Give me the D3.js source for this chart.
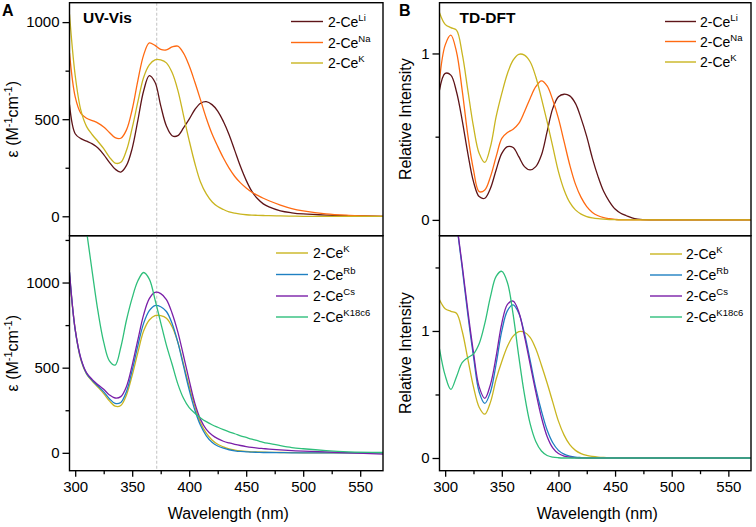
<!DOCTYPE html>
<html>
<head>
<meta charset="utf-8">
<script src="https://cdn.jsdelivr.net/npm/d3@7"></script>
<style>
  html, body { margin: 0; padding: 0; background: #fff; }
  svg { display: block; }
  text { font-family: "Liberation Sans", Arial, Helvetica, sans-serif; fill: #000; }
</style>
</head>
<body>
<svg id="chart" width="756" height="527"></svg>
<script>
// ---------------- DATA ----------------
const wavelengths = [295,300,305,310,315,320,325,330,335,340,
  345,350,355,360,365,370,375,380,385,390,
  395,400,405,410,415,420,425,430,435,440,
  445,450,455,460,465,470,480,490,500,520,540,570];

// UV-Vis molar absorptivity (M^-1 cm^-1)
const uvLi = [575,425,400,387,373,352,318,278,243,228,
  262,350,495,645,724,690,570,465,415,415,
  455,500,550,582,590,575,542,488,420,338,
  256,185,128,90,64,48,28,18,12,6,3,0];
const uvNa = [840,615,530,505,493,480,460,432,405,402,
  445,550,700,830,893,880,860,857,872,876,
  840,775,690,598,505,425,360,300,248,205,
  172,146,124,108,93,80,58,40,28,12,5,0];
const uvK = [1040,725,545,462,420,385,348,305,274,278,
  340,455,590,715,780,806,805,790,740,650,
  520,390,272,175,115,75,50,35,23,16,
  11,8,6,5,4,3,2,1,0,0,0,0];
const uvRb = [1060,720,550,465,425,392,358,318,290,296,
  360,485,630,760,835,865,858,830,760,650,
  510,370,250,160,100,62,40,27,18,12,
  8,6,4,3,2,2,1,0,0,0,0,0];
const uvCs = [1060,725,555,470,430,400,373,340,322,330,
  390,515,665,810,905,942,935,900,820,710,
  570,425,290,195,138,105,83,68,58,50,
  43,37,32,28,25,22,17,13,10,5,0,-8];
const uvK18c6 = [2100,1800,1530,1300,1060,830,650,540,515,620,
  780,910,1010,1059,1020,900,765,632,520,405,
  320,265,232,205,183,165,150,136,123,112,
  100,90,80,71,62,55,42,31,24,13,6,2];

// TD-DFT relative intensity
const tdLi = [0.78,0.88,0.87,0.77,0.60,0.40,0.23,0.14,0.13,0.19,
  0.30,0.40,0.44,0.435,0.38,0.32,0.30,0.32,0.39,0.53,
  0.67,0.74,0.755,0.745,0.70,0.61,0.50,0.37,0.26,0.17,
  0.11,0.065,0.04,0.025,0.012,0.005,0,0,0,0,0,0];
const tdNa = [0.84,1.05,1.11,1.01,0.78,0.51,0.30,0.17,0.18,0.26,
  0.38,0.49,0.525,0.545,0.58,0.65,0.73,0.80,0.835,0.805,
  0.72,0.61,0.47,0.33,0.215,0.135,0.08,0.045,0.025,0.013,
  0.007,0.003,0,0,0,0,0,0,0,0,0,0];
const tdK = [1.245,1.175,1.155,1.14,1.00,0.78,0.56,0.40,0.345,0.44,
  0.62,0.76,0.88,0.96,0.995,0.99,0.95,0.86,0.73,0.59,
  0.44,0.29,0.18,0.105,0.06,0.035,0.02,0.012,0.007,0.004,
  0.002,0.001,0,0,0,0,0,0,0,0,0,0];
const tdRb = [2.9,2.55,2.2,1.85,1.50,1.13,0.80,0.52,0.43,0.52,
  0.74,1.00,1.16,1.205,1.14,0.98,0.77,0.55,0.37,0.22,
  0.12,0.06,0.03,0.015,0.007,0.003,0,0,0,0,
  0,0,0,0,0,0,0,0,0,0,0,0];
const tdCs = [2.9,2.55,2.2,1.86,1.52,1.16,0.83,0.56,0.47,0.58,
  0.80,1.06,1.21,1.235,1.15,0.96,0.74,0.52,0.32,0.17,
  0.08,0.035,0.015,0.006,0.002,0,0,0,0,0,
  0,0,0,0,0,0,0,0,0,0,0,0];
const tdK18c6 = [0.86,0.65,0.54,0.64,0.75,0.79,0.82,0.90,1.06,1.27,
  1.43,1.47,1.38,1.13,0.80,0.50,0.27,0.13,0.055,0.02,
  0.007,0.002,0,0,0,0,0,0,0,0,
  0,0,0,0,0,0,0,0,0,0,0,0];

// ticks
const xTicks = [300,350,400,450,500,550];
const xMinorTicks = [325,375,425,475,525];
const uvTicks = [0,500,1000];
const uvMinorTicksTop = [250,750];
const uvMinorTicksBottom = [250,750,1250];
const tdTicks = [0,1];
const tdMinorTicksTop = [0.5];
const tdMinorTicksBottom = [0.5,1.5];
const markerWavelength = 371.5;

// series names & colors
const names = {Li:"Li", Na:"Na", K:"K", Rb:"Rb", Cs:"Cs", K18c6:"K18c6"};
const colors = {Li:"#5e1418", Na:"#ff6a12", K:"#c9b520", Rb:"#1f80c2", Cs:"#7a1fa8", K18c6:"#2fbf7b"};

// ---------------- LAYOUT ----------------
const svg = d3.select("#chart");
const LX = [69.5, 383], RX = [439.5, 751];
const TY = [2.7, 235.7], BY = [235.7, 470.7];
const xDomain = [295, 570];
const FONT = "'Liberation Sans', Arial, Helvetica, sans-serif";

const panels = [
  {id:"tl", xr:LX, yr:TY, yDomain:[-100,1100], ticks:uvTicks, minor:uvMinorTicksTop,
   series:[["Li",uvLi],["Na",uvNa],["K",uvK]], xaxis:false,
   legend:{x1:291, x2:323, tx:328, ys:[21.5,42.5,63]}},
  {id:"bl", xr:LX, yr:BY, yDomain:[-105,1275], ticks:uvTicks, minor:uvMinorTicksBottom,
   series:[["K",uvK],["Rb",uvRb],["Cs",uvCs],["K18c6",uvK18c6]], xaxis:true,
   legend:{x1:276, x2:308, tx:313, ys:[253,274.5,296,317]}},
  {id:"tr", xr:RX, yr:TY, yDomain:[-0.095,1.305], ticks:tdTicks, minor:tdMinorTicksTop,
   series:[["Li",tdLi],["Na",tdNa],["K",tdK]], xaxis:false,
   legend:{x1:665, x2:696, tx:700, ys:[21.5,41.5,62]}},
  {id:"br", xr:RX, yr:BY, yDomain:[-0.1,1.75], ticks:tdTicks, minor:tdMinorTicksBottom,
   series:[["K",tdK],["Rb",tdRb],["Cs",tdCs],["K18c6",tdK18c6]], xaxis:true,
   legend:{x1:650, x2:682, tx:686, ys:[254,275,296,317]}}
];

const scales = {};

panels.forEach(p => {
  const x = d3.scaleLinear().domain(xDomain).range(p.xr);
  const y = d3.scaleLinear().domain(p.yDomain).range([p.yr[1], p.yr[0]]);
  scales[p.id] = {x, y};
  const g = svg.append("g");

  svg.append("defs").append("clipPath").attr("id", "clip-" + p.id)
    .append("rect").attr("x", p.xr[0]).attr("y", p.yr[0])
    .attr("width", p.xr[1] - p.xr[0]).attr("height", p.yr[1] - p.yr[0]);

  // marker dashed line for UV-Vis panels
  if (p.id === "tl" || p.id === "bl") {
    g.append("line")
      .attr("x1", x(markerWavelength)).attr("x2", x(markerWavelength))
      .attr("y1", p.yr[0]).attr("y2", p.yr[1])
      .attr("stroke", "#c8c8c8").attr("stroke-width", 1.1)
      .attr("stroke-dasharray", "3,2");
  }

  const line = d3.line()
    .x((d, i) => x(wavelengths[i]))
    .y(d => y(d))
    .curve(d3.curveCatmullRom.alpha(0.5));

  const lg = g.append("g").attr("clip-path", "url(#clip-" + p.id + ")");
  p.series.forEach(([key, vals]) => {
    lg.append("path").attr("d", line(vals))
      .attr("fill", "none").attr("stroke", colors[key])
      .attr("stroke-width", 1.3).attr("stroke-linejoin", "round");
  });

  // y axis major
  const fmt = d3.format("d");
  const ya = g.append("g").attr("transform", `translate(${p.xr[0]},0)`)
    .call(d3.axisLeft(y).tickValues(p.ticks).tickSize(7).tickPadding(3).tickFormat(fmt));
  ya.select(".domain").remove();
  ya.selectAll("line").attr("stroke", "#000").attr("stroke-width", 1.3);
  ya.selectAll("text").attr("font-size", 15).attr("font-family", FONT);
  const ym = g.append("g").attr("transform", `translate(${p.xr[0]},0)`)
    .call(d3.axisLeft(y).tickValues(p.minor).tickSize(4).tickFormat(""));
  ym.select(".domain").remove();
  ym.selectAll("line").attr("stroke", "#000").attr("stroke-width", 1.3);

  if (p.xaxis) {
    const xa = g.append("g").attr("transform", `translate(0,${p.yr[1]})`)
      .call(d3.axisBottom(x).tickValues(xTicks).tickSize(6).tickPadding(5).tickFormat(fmt));
    xa.select(".domain").remove();
    xa.selectAll("line").attr("stroke", "#000").attr("stroke-width", 1.3);
    xa.selectAll("text").attr("font-size", 15).attr("font-family", FONT);
    const xm = g.append("g").attr("transform", `translate(0,${p.yr[1]})`)
      .call(d3.axisBottom(x).tickValues(xMinorTicks).tickSize(3.5).tickFormat(""));
    xm.select(".domain").remove();
    xm.selectAll("line").attr("stroke", "#000").attr("stroke-width", 1.3);

    g.append("text")
      .attr("x", (p.xr[0] + p.xr[1]) / 2 + 2).attr("y", 519)
      .attr("text-anchor", "middle").attr("font-size", 16)
      .text("Wavelength (nm)");
  }

  // frame
  g.append("rect").attr("x", p.xr[0]).attr("y", p.yr[0])
    .attr("width", p.xr[1] - p.xr[0]).attr("height", p.yr[1] - p.yr[0])
    .attr("fill", "none").attr("stroke", "#000").attr("stroke-width", 1.4);

  // legend
  p.series.forEach(([key], i) => {
    const yy = p.legend.ys[i];
    g.append("line").attr("x1", p.legend.x1).attr("x2", p.legend.x2)
      .attr("y1", yy).attr("y2", yy)
      .attr("stroke", colors[key]).attr("stroke-width", 1.4);
    const t = g.append("text").attr("x", p.legend.tx).attr("y", yy + 5)
      .attr("font-size", 14);
    t.append("tspan").text("2-Ce");
    t.append("tspan").attr("dy", -6).attr("font-size", 9.5).text(names[key]);
  });

  // y title
  const cy = (p.yr[0] + p.yr[1]) / 2;
  if (p.id === "tl" || p.id === "bl") {
    const t = g.append("text")
      .attr("transform", `translate(18,${cy}) rotate(-90)`)
      .attr("text-anchor", "middle").attr("font-size", 16);
    t.append("tspan").text("ε (M");
    t.append("tspan").attr("dy", -6).attr("font-size", 11).text("-1");
    t.append("tspan").attr("dy", 6).text("cm");
    t.append("tspan").attr("dy", -6).attr("font-size", 11).text("-1");
    t.append("tspan").attr("dy", 6).text(")");
  } else {
    g.append("text")
      .attr("transform", `translate(411,${cy}) rotate(-90)`)
      .attr("text-anchor", "middle").attr("font-size", 16)
      .text("Relative Intensity");
  }
});

// panel labels and titles
svg.append("text").attr("x", 2).attr("y", 16).attr("font-size", 16).attr("font-weight", "bold").text("A");
svg.append("text").attr("x", 399).attr("y", 16).attr("font-size", 16).attr("font-weight", "bold").text("B");
svg.append("text").attr("x", 83).attr("y", 22.5).attr("font-size", 15.5).attr("font-weight", "bold").text("UV-Vis");
svg.append("text").attr("x", 459.5).attr("y", 22.5).attr("font-size", 15.5).attr("font-weight", "bold").text("TD-DFT");
</script>
</body>
</html>
